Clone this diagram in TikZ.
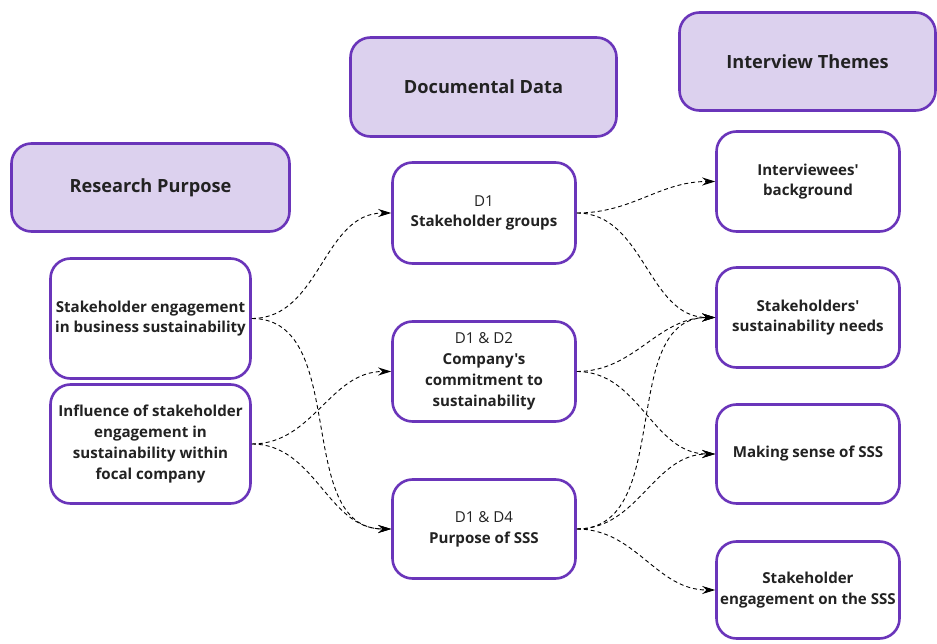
\documentclass[tikz,border=0pt]{standalone}
\usepackage{fontspec}
\setmainfont{Open Sans}[Ligatures=TeXOff]
\usetikzlibrary{arrows.meta}
\definecolor{purp}{HTML}{6A35BA}
\definecolor{lav}{HTML}{DCD1EE}
\definecolor{ink}{HTML}{222222}
\begin{document}
\begin{tikzpicture}[x=1pt,y=-1pt,
  hdr/.style={draw=purp, fill=lav, line width=2.6pt, rounded corners=20pt,
    text=ink, font=\bfseries\fontsize{18.2}{22}\selectfont, align=center, inner sep=0pt},
  box/.style={draw=purp, fill=white, line width=2.6pt, rounded corners=20pt,
    text=ink, font=\bfseries\fontsize{15.1}{20.8}\selectfont, align=center, inner sep=0pt},
  link/.style={dash pattern=on 4pt off 3pt, line width=0.9pt,
    -{Stealth[length=13pt,width=8pt]}}
]
\useasboundingbox (0,0) rectangle (937,644);

% column headers
\node[hdr, minimum width=278pt, minimum height=88pt] (rp) at (150.5,187.5) {Research Purpose};
\node[hdr, minimum width=266pt, minimum height=99pt] (dd) at (483.5,87) {Documental Data};
\node[hdr, minimum width=256pt, minimum height=98pt] (it) at (807.5,61.5) {Interview Themes};

% research purpose
\node[box, minimum width=200pt, minimum height=120pt] (se) at (150.5,318.5)
  {Stakeholder engagement\\in business sustainability};
\node[box, minimum width=200pt, minimum height=119pt] (inf) at (150.5,444)
  {Influence of stakeholder\\engagement in\\sustainability within\\focal company};

% documental data
\node[box, minimum width=183pt, minimum height=101pt] (d1) at (484,213)
  {{\mdseries D1}\\Stakeholder groups};
\node[box, minimum width=183pt, minimum height=100pt] (d12) at (484,371.5)
  {{\mdseries D1 \& D2}\\Company's\\commitment to\\sustainability};
\node[box, minimum width=183pt, minimum height=99pt] (d14) at (484,529)
  {{\mdseries D1 \& D4}\\Purpose of SSS};

% interview themes
\node[box, minimum width=183pt, minimum height=100pt] (ib) at (808,181.5)
  {Interviewees'\\background};
\node[box, minimum width=183pt, minimum height=100pt] (sn) at (808,317.5)
  {Stakeholders'\\sustainability needs};
\node[box, minimum width=183pt, minimum height=99pt] (ms) at (808,454)
  {Making sense of SSS};
\node[box, minimum width=183pt, minimum height=97pt] (ses) at (808,590)
  {Stakeholder\\engagement on the SSS};

% links from research purpose to documents
\draw[link] (se.east) to[out=0,in=180] (d1.west);
\draw[link] (se.east) to[out=0,in=180] (d14.west);
\draw[link] (inf.east) to[out=0,in=180] (d12.west);
\draw[link] (inf.east) to[out=0,in=180] (d14.west);

% links from documents to interview themes
\draw[link] (d1.east) to[out=0,in=180] (ib.west);
\draw[link] (d1.east) to[out=0,in=180] (sn.west);
\draw[link] (d12.east) to[out=0,in=180] (sn.west);
\draw[link] (d12.east) to[out=0,in=180] (ms.west);
\draw[link] (d14.east) to[out=0,in=180] (sn.west);
\draw[link] (d14.east) to[out=0,in=180] (ms.west);
\draw[link] (d14.east) to[out=0,in=180] (ses.west);
\end{tikzpicture}
\end{document}
